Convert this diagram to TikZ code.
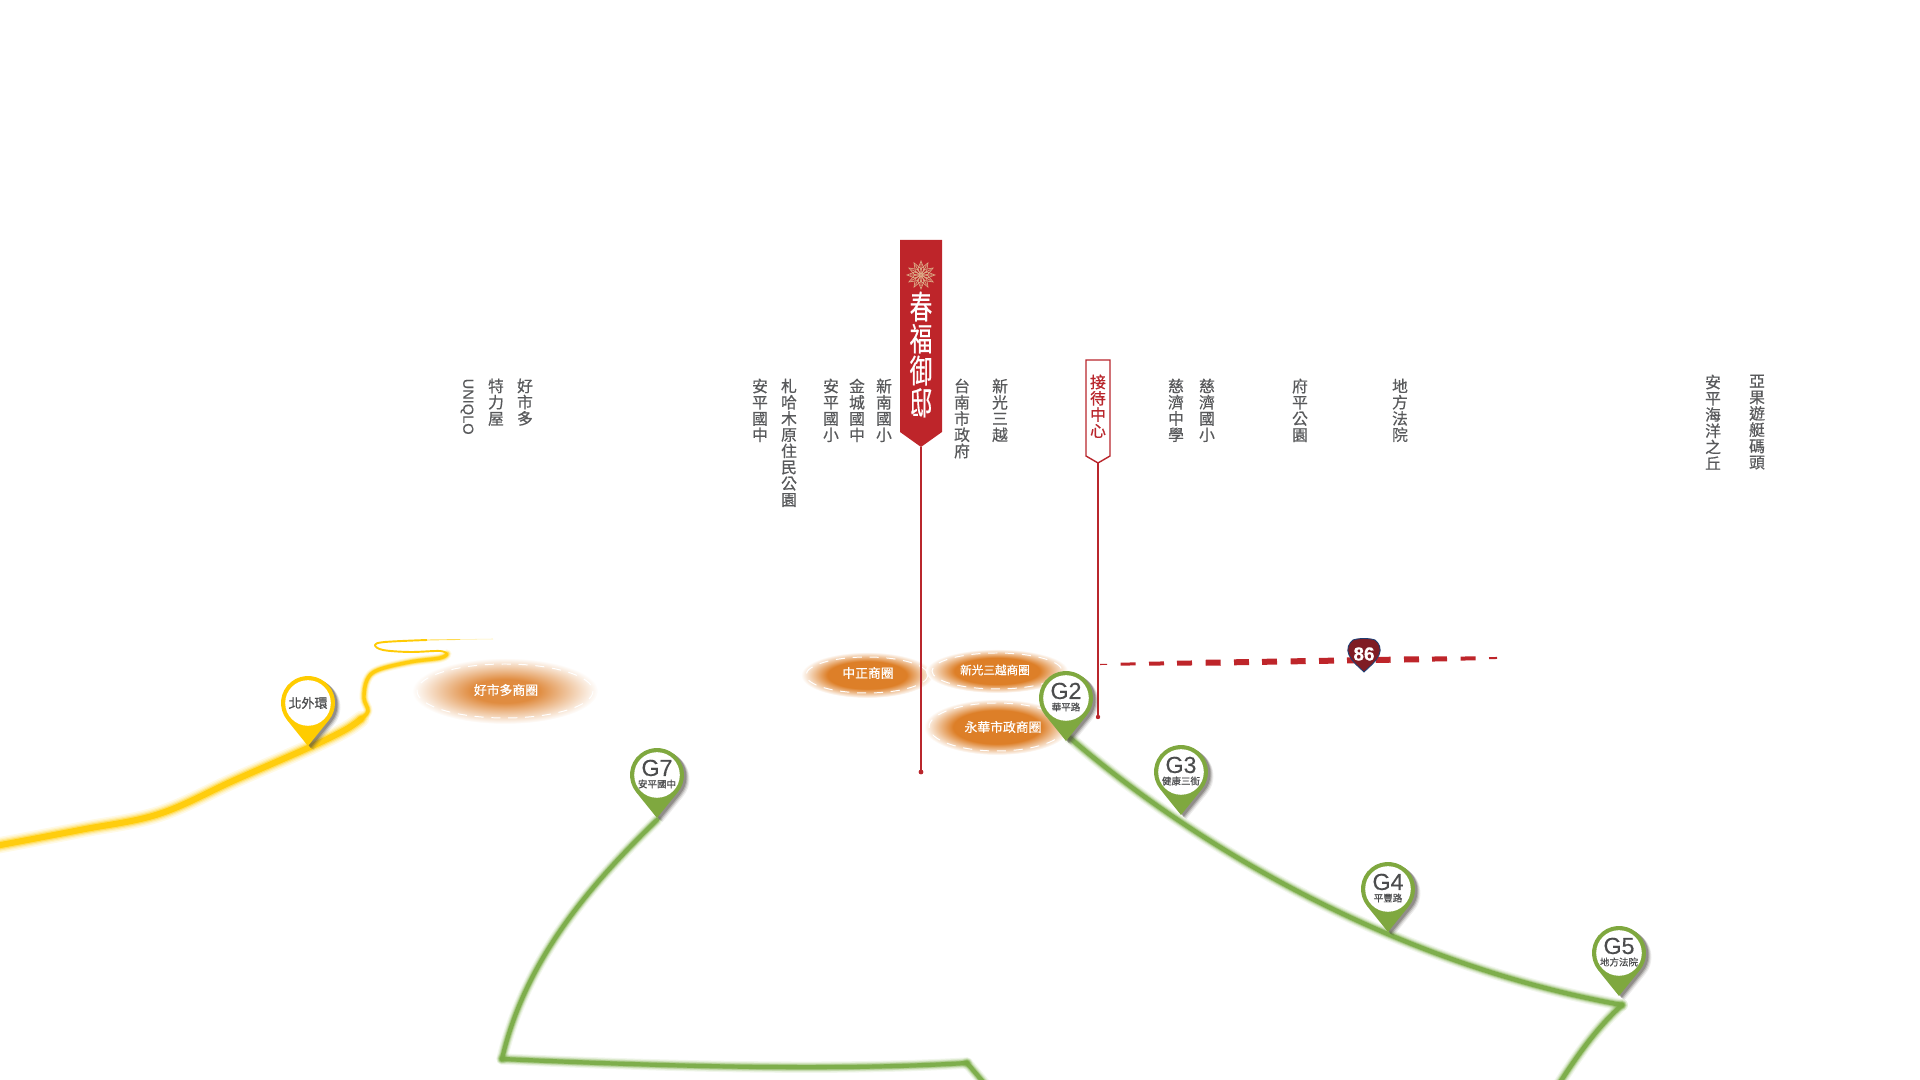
\documentclass[tikz,border=0pt]{standalone}
\usepackage{fontspec}
\usepackage{xcolor}
\setmainfont{Noto Sans CJK TC}
\newfontfamily\latinfont[FakeBold=0.3]{Liberation Sans}
\newfontfamily\labelfont[FakeBold=0.6]{Noto Sans CJK TC}
\newfontfamily\flagfont[FakeStretch=0.7,FakeBold=0.5]{Noto Sans CJK TC}
\definecolor{flagred}{HTML}{BE252A}
\definecolor{stemred}{HTML}{B9262C}
\definecolor{labelgray}{HTML}{58595B}
\definecolor{pingreen}{HTML}{7FA83F}
\definecolor{pinyellow}{HTML}{FFCC00}
\definecolor{routegreen}{HTML}{79AB45}
\definecolor{routeyellow}{HTML}{FFCB05}
\definecolor{glowcore}{HTML}{DD7F28}
\definecolor{glowpale}{HTML}{E08C40}
\definecolor{emblemtan}{HTML}{DDB08A}
\definecolor{shieldred}{HTML}{7F1C24}
\definecolor{shieldblue}{HTML}{1F3F73}
\definecolor{pinshadow}{HTML}{4F4A45}
\pgfdeclareradialshading{glow}{\pgfpointorigin}{color(0bp)=(glowcore); color(15bp)=(glowcore); color(25bp)=(white); color(50bp)=(white)}
\pgfdeclareradialshading{glowsoft}{\pgfpointorigin}{color(0bp)=(glowpale); color(9bp)=(glowpale); color(25bp)=(white); color(50bp)=(white)}
\newcommand{\softline}[3]{%
    \foreach \f/\o in {2.7/.1, 2.2/.14, 1.8/.22, 1.4/.4, 1/.9}
        \draw [#1, line width={\f*#2*0.2845}, opacity=\o, line cap=round, line join=round] #3;
}
\newcommand{\mappin}[4]{%
    \begin{scope}[shift={(#1,#2)}]
        \foreach \s/\o in {5.5/.1, 4.5/.15, 3.5/.25, 2.5/.35}
            \fill [pinshadow, opacity=\o, shift={(\s,\s*.75)}, pinshape];
        \fill [#3, pinshape];
        \fill [white] (0,0) circle [radius=22.8];
        #4
    \end{scope}
}
\begin{document}
\begin{tikzpicture}[
    x=0.01cm, y=-0.01cm,
    pinshape/.style = {insert path={(90:43) -- (141.1:27) arc [start angle=141.1, end angle=398.9, radius=27] -- cycle}},
    vlabel/.style = {anchor=north, align=center, inner sep=0pt, text=labelgray, font=\labelfont\fontsize{4.5}{4.62}\selectfont},
    pinmain/.style = {inner sep=0pt, text=labelgray!85!black, font=\latinfont\fontsize{6.6}{6.6}\selectfont},
    pinsub/.style = {inner sep=0pt, text=labelgray!85!black, font=\labelfont\fontsize{2.7}{2.7}\selectfont},
    zonetext/.style = {inner sep=0pt, text=white, font=\labelfont\fontsize{3.65}{3.65}\selectfont},
    zonering/.style = {draw=white, line width=.28pt, dash pattern=on 2.6pt off 2.2pt},
    stem/.style = {draw=stemred, line width=.36pt},
    stemdot/.style = {fill=stemred}
]
    \clip (0,0) rectangle (1920,1080);

    \shade [shading=glowsoft] (505,691) ellipse [x radius=93, y radius=33];
    \shade [shading=glow] (867,675) ellipse [x radius=66, y radius=23];
    \shade [shading=glow] (997,671) ellipse [x radius=71, y radius=22];
    \shade [shading=glow] (997,727) ellipse [x radius=73, y radius=28];
    \draw [zonering] (505,691) ellipse [x radius=88, y radius=27];
    \draw [zonering] (867,675) ellipse [x radius=61, y radius=18];
    \draw [zonering] (997,671) ellipse [x radius=65, y radius=18];
    \draw [zonering] (997,727) ellipse [x radius=68, y radius=24];
    \node [zonetext] (zonecostco) at (506,690) {好市多商圈};
    \node [zonetext] (zonezz) at (868,673) {中正商圈};
    \node [zonetext, font=\labelfont\fontsize{3.3}{3.3}\selectfont] (zoneskm) at (995,670) {新光三越商圈};
    \node [zonetext] (zoneyh) at (1003,727) {永華市政商圈};

    \softline{routeyellow}{6}{plot [smooth, tension=.6] coordinates {(-10,847) (80,830) (159,814) (235,780) (308,748) (345,730) (361,719)}}
    \softline{routeyellow}{3.4}{plot [smooth, tension=.6] coordinates {(361,719) (368,711) (364,698) (367,680) (378,670) (410,662) (440,658) (447,654)}}
    \draw [routeyellow, line width=.55pt, line join=round] plot [smooth, tension=.6] coordinates {(447,654) (440,651) (410,652) (383,650) (375,645) (385,642) (427,640)};
    \draw [routeyellow, line width=.25pt, opacity=.7] (427,640) -- (460,639.5);
    \draw [routeyellow, line width=.15pt, opacity=.35] (460,639.5) -- (493,639);

    \softline{routegreen}{4.4}{(1070,738) .. controls (1200,850) and (1400,965) .. (1622,1005)}
    \softline{routegreen}{4.4}{(1622,1005) .. controls (1600,1025) and (1580,1050) .. (1552,1095)}
    \softline{routegreen}{4.2}{(657,820) .. controls (590,885) and (525,960) .. (502,1059)}
    \softline{routegreen}{4.2}{(502,1059) .. controls (700,1068) and (850,1070) .. (967,1063)}
    \softline{routegreen}{4.2}{(967,1063) -- (990,1090)}

    \coordinate (route86start) at (1100,664.5);
    \draw [flagred, line width=.3pt] (route86start) -- (1107,664.4);
    \foreach \k/\w/\len in {1120.7/3/15, 1149/4/15, 1177/5/15, 1205.7/6/15, 1234/6/15, 1262/6/15, 1290.7/6/15, 1319/6/15, 1347/6/15, 1375.7/6/15, 1404/6/15, 1432/5/15, 1460.7/4/15, 1489/2/8}
        \draw [flagred, line width={\w*0.2845}] (\k,{664.5-(\k-1100)*0.0164}) -- ({\k+\len},{664.5-(\k+\len-1100)*0.0164});

    \fill [shieldred, draw=shieldblue, line width=.25pt] (1353,640) .. controls (1359,638) and (1369,638) .. (1375,640) .. controls (1379,643) and (1382,649) .. (1379,655) .. controls (1376,662) and (1369,667) .. (1364,672) .. controls (1359,667) and (1352,662) .. (1349,655) .. controls (1346,649) and (1349,643) .. (1353,640) -- cycle;
    \node [inner sep=0pt, text=white, font=\latinfont\bfseries\fontsize{5.4}{5.4}\selectfont] (shield86) at (1364,654) {86};

    \draw [stem] (921,447) -- (921,772);
    \fill [stemdot] (921,772) circle [radius=2.4];
    \fill [flagred] (900,240) -- (942,240) -- (942,432) -- (921,447) -- (900,432) -- cycle;
    \foreach \a in {0,30,...,330} {
        \begin{scope}[shift={(921,275)}, rotate=\a]
            \draw [emblemtan, line width=.18pt] (1,0) -- (5,-3.4) -- (14,0) -- (5,3.4) -- cycle (5,0) -- (11,0);
        \end{scope}
    }
    \node [anchor=north, align=center, inner sep=0pt, text=white, font=\flagfont\fontsize{9.2}{9.1}\selectfont] (flagname) at (921,291) {春\\福\\御\\邸};

    \draw [stem] (1098,463) -- (1098,717);
    \fill [stemdot] (1098,717) circle [radius=2.2];
    \draw [fill=white, draw=stemred, line width=.4pt] (1086,360) -- (1110,360) -- (1110,456) -- (1098,463) -- (1086,456) -- cycle;
    \node [anchor=north, align=center, inner sep=0pt, text=stemred, font=\labelfont\fontsize{4.5}{4.62}\selectfont] (reception) at (1098,374) {接\\待\\中\\心};

    \node [vlabel] (costco) at (525,378) {好\\市\\多};
    \node [vlabel] (tlj) at (496,378) {特\\力\\屋};
    \node [anchor=west, rotate=-90, inner sep=0pt, text=labelgray, font=\latinfont\fontsize{4.15}{4.15}\selectfont] (uniqlo) at (467,378) {UNIQLO};
    \node [vlabel] (apjh) at (760,378) {安\\平\\國\\中};
    \node [vlabel] (zahamu) at (789,378) {札\\哈\\木\\原\\住\\民\\公\\園};
    \node [vlabel] (apes) at (831,378) {安\\平\\國\\小};
    \node [vlabel] (jcjh) at (857,378) {金\\城\\國\\中};
    \node [vlabel] (xnes) at (884,378) {新\\南\\國\\小};
    \node [vlabel] (cityhall) at (962,378) {台\\南\\市\\政\\府};
    \node [vlabel] (skm) at (1000,378) {新\\光\\三\\越};
    \node [vlabel] (tcjh) at (1176,378) {慈\\濟\\中\\學};
    \node [vlabel] (tces) at (1207,378) {慈\\濟\\國\\小};
    \node [vlabel] (fppark) at (1300,378) {府\\平\\公\\園};
    \node [vlabel] (court) at (1400,378) {地\\方\\法\\院};
    \node [vlabel] (oceanhill) at (1713,374) {安\\平\\海\\洋\\之\\丘};
    \node [vlabel] (marina) at (1757,374) {亞\\果\\遊\\艇\\碼\\頭};

    \mappin{1066}{698}{pingreen}{\node [pinmain] (g2main) at (0,-7) {G2}; \node [pinsub] (g2sub) at (0,9) {華平路};}
    \mappin{1181}{772}{pingreen}{\node [pinmain] (g3main) at (0,-7) {G3}; \node [pinsub] (g3sub) at (0,9) {健康三街};}
    \mappin{1388}{889}{pingreen}{\node [pinmain] (g4main) at (0,-7) {G4}; \node [pinsub] (g4sub) at (0,9) {平豐路};}
    \mappin{1619}{953}{pingreen}{\node [pinmain] (g5main) at (0,-7) {G5}; \node [pinsub] (g5sub) at (0,9) {地方法院};}
    \mappin{657}{775}{pingreen}{\node [pinmain] (g7main) at (0,-7) {G7}; \node [pinsub] (g7sub) at (0,9) {安平國中};}
    \mappin{308}{703}{pinyellow}{\node [pinsub, font=\labelfont\fontsize{3.7}{3.7}\selectfont] (ringmain) at (0,0) {北外環};}
\end{tikzpicture}
\end{document}
